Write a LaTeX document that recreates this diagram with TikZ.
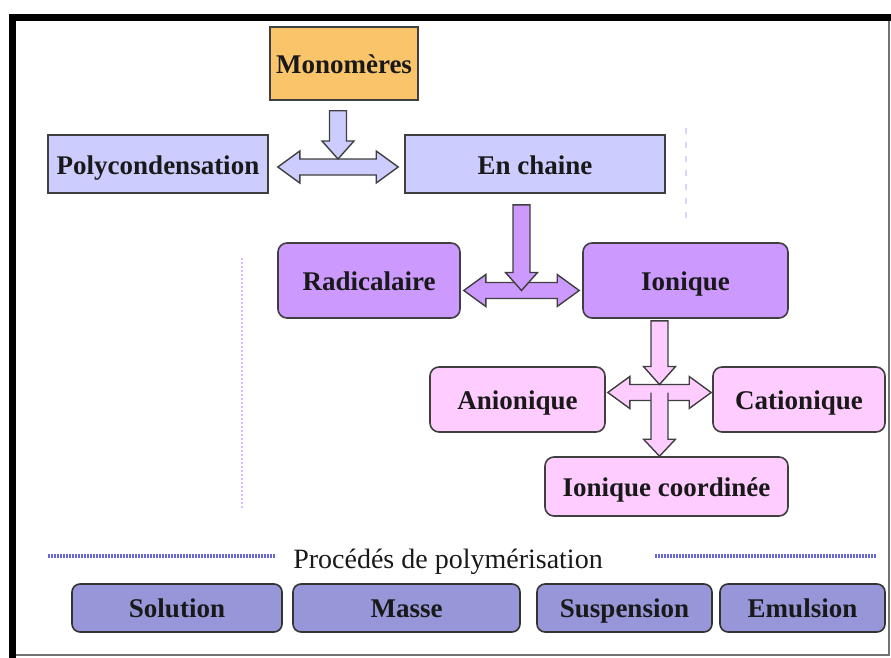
\documentclass[tikz,border=0pt]{standalone}
\usepackage{fontspec}
\setmainfont{Liberation Serif}
\usetikzlibrary{calc}

\definecolor{orangefill}{HTML}{FAC46B}
\definecolor{lavfill}{HTML}{CCCCFF}
\definecolor{purplefill}{HTML}{CC99FF}
\definecolor{pinkfill}{HTML}{FFCCFF}
\definecolor{procfill}{HTML}{9696D8}
\definecolor{boxline}{HTML}{3F3F3F}
\definecolor{dotblue}{HTML}{6666DD}

\tikzset{
    box/.style={draw=boxline, line width=1.6pt, inner sep=0pt, text=black!90,
        font={\fontsize{27}{30}\selectfont\bfseries}, text height=26pt, text depth=6pt},
    monobox/.style={box, fill=orangefill},
    typebox/.style={box, fill=lavfill},
    chainbox/.style={box, fill=purplefill, rounded corners=9pt},
    ionbox/.style={box, fill=pinkfill, rounded corners=9pt},
    procbox/.style={box, fill=procfill, rounded corners=8pt, draw=black!80, minimum height=48pt,
        text height=24pt, text depth=6pt},
    % block arrows drawn between two points
    arrdown/.style={draw=boxline, line width=1.4pt, line join=miter, to path={
        let \p1=(\tikztostart), \p2=(\tikztotarget) in
        (\x1-8.5pt,\y1) -- (\x1+8.5pt,\y1) -- (\x1+8.5pt,\y2+18pt) -- (\x1+16pt,\y2+18pt)
        -- (\x1,\y2) -- (\x1-16pt,\y2+18pt) -- (\x1-8.5pt,\y2+18pt) -- cycle}},
    arrstem/.style={draw=boxline, line width=1.4pt, line join=miter, to path={
        let \p1=(\tikztostart), \p2=(\tikztotarget) in
        (\x1+8.5pt,\y1) -- (\x1+8.5pt,\y2+17pt) -- (\x1+16pt,\y2+17pt)
        -- (\x1,\y2) -- (\x1-16pt,\y2+17pt) -- (\x1-8.5pt,\y2+17pt) -- (\x1-8.5pt,\y1)}},
    arrboth/.style={draw=boxline, line width=1.4pt, line join=miter, to path={
        let \p1=(\tikztostart), \p2=(\tikztotarget) in
        (\x1,\y1) -- (\x1+22pt,\y1+16pt) -- (\x1+22pt,\y1+8pt) -- (\x2-22pt,\y1+8pt)
        -- (\x2-22pt,\y1+16pt) -- (\x2,\y1) -- (\x2-22pt,\y1-16pt) -- (\x2-22pt,\y1-8pt)
        -- (\x1+22pt,\y1-8pt) -- (\x1+22pt,\y1-16pt) -- cycle}},
}

\begin{document}
\begin{tikzpicture}[x=1pt,y=-1pt]
    \useasboundingbox (0,0) rectangle (891,658);
    %
    % frame
    \draw[line width=1.2pt, draw=black!55] (12,655) -- (889,655) -- (889,17);
    \draw[line width=7pt] (12.5,658) -- (12.5,17.5) -- (891,17.5);
    %
    % faint guide lines
    \draw[dotblue, line width=3.5pt, dash pattern=on 2pt off 1pt] (48,556) -- (276,556);
    \draw[dotblue, line width=3.5pt, dash pattern=on 2pt off 1pt] (655,556) -- (876,556);
    \draw[purplefill!70, line width=2pt, dash pattern=on 2pt off 2pt] (242,258) -- (242,508);
    \draw[lavfill!80, line width=2.5pt, dash pattern=on 6pt off 8pt] (686,128) -- (686,222);
    %
    \node[monobox, minimum width=148pt, minimum height=73pt] (mono) at (344,63.5) {Monomères};
    \node[typebox, minimum width=220pt, minimum height=58pt] (poly) at (158,164) {Polycondensation};
    \node[typebox, minimum width=260pt, minimum height=58pt] (chain) at (535,164) {En chaine};
    \node[chainbox, minimum width=182pt, minimum height=75pt] (rad) at (369,280.5) {Radicalaire};
    \node[chainbox, minimum width=205pt, minimum height=75pt] (ion) at (685.5,280.5) {Ionique};
    \node[ionbox, minimum width=175pt, minimum height=65pt] (anion) at (517.5,399.5) {Anionique};
    \node[ionbox, minimum width=172pt, minimum height=65pt] (cation) at (799,399.5) {Cationique};
    \node[ionbox, minimum width=243pt, minimum height=59pt] (coord) at (666.5,486.5) {Ionique coordinée};
    %
    \node[font={\fontsize{28}{32}\selectfont}, text=black!90, anchor=base] (proc) at (448,568) {Procédés de polymérisation};
    \node[procbox, minimum width=210pt] (sol) at (177,608) {Solution};
    \node[procbox, minimum width=227pt] (masse) at (406.5,608) {Masse};
    \node[procbox, minimum width=175pt] (susp) at (624.5,608) {Suspension};
    \node[procbox, minimum width=165pt] (emul) at (802.5,608) {Emulsion};
    %
    % arrow ends
    \coordinate (d1a) at ([xshift=9pt,yshift=-3pt]poly.east);
    \coordinate (d1b) at ([xshift=-6pt,yshift=-3pt]chain.west);
    \coordinate (d1m) at ($(d1a)!0.5!(d1b)$);
    \coordinate (d2a) at ([xshift=3pt,yshift=-10pt]rad.east);
    \coordinate (d2b) at ([xshift=-3pt,yshift=-10pt]ion.west);
    \coordinate (d2m) at ($(d2a)!0.5!(d2b)$);
    \coordinate (d3a) at ([xshift=2pt,yshift=7pt]anion.east);
    \coordinate (d3b) at ([xshift=-1pt,yshift=7pt]cation.west);
    \coordinate (d3m) at ($(d3a)!0.5!(d3b)$);
    \coordinate (s1) at (mono.south -| d1m);
    \coordinate (s2) at (chain.south -| d2m);
    \coordinate (s3) at (ion.south -| d3m);
    \coordinate (s4) at (coord.north -| d3m);
    %
    \draw[arrboth, fill=lavfill] (d1a) to (d1b);
    \draw[arrdown, fill=lavfill] ([yshift=-10pt]s1) to ([yshift=8pt]d1m);
    \draw[arrboth, fill=purplefill] (d2a) to (d2b);
    \draw[arrdown, fill=purplefill] ([yshift=-11pt]s2) to (d2m);
    \draw[arrboth, fill=pinkfill] (d3a) to (d3b);
    \draw[arrdown, fill=pinkfill] ([yshift=-2pt]s3) to ([yshift=8pt]d3m);
    \draw[arrstem, fill=pinkfill] (d3m) to (s4);
\end{tikzpicture}
\end{document}
